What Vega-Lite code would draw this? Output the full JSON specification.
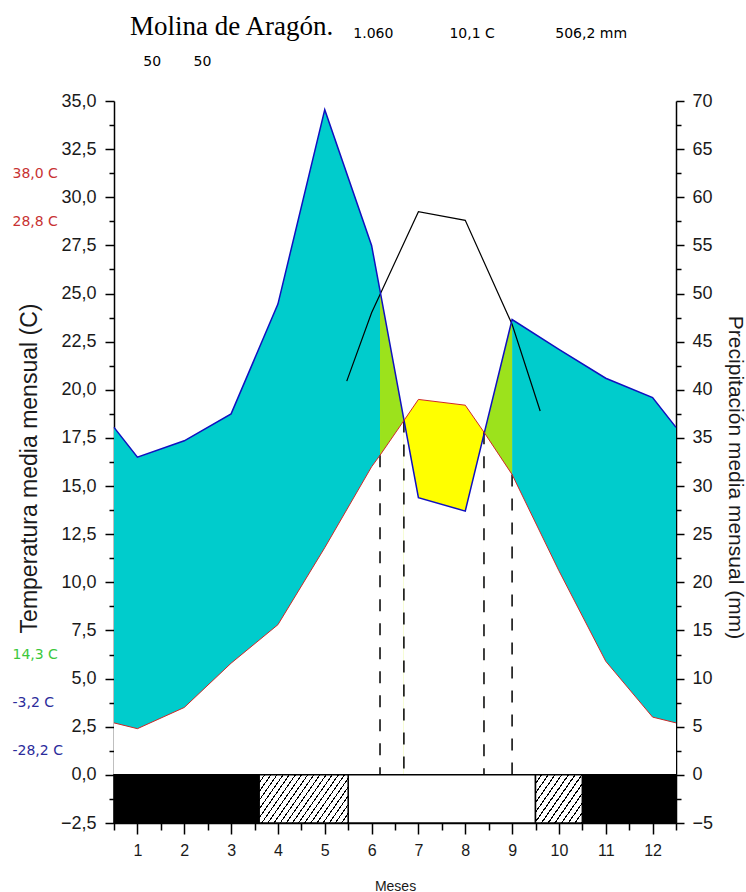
{
  "$schema": "https://vega.github.io/schema/vega-lite/v6.json",
  "width": 562,
  "height": 722,
  "autosize": "none",
  "padding": {"left": 114, "top": 101, "right": 70, "bottom": 69},
  "background": "white",
  "config": {
    "view": {"stroke": null},
    "axis": {
      "grid": false,
      "labelFont": "Liberation Sans",
      "titleFont": "Liberation Sans",
      "labelColor": "#1a1a1a",
      "titleColor": "#1a1a1a",
      "titleFontWeight": "normal",
      "domainColor": "black",
      "tickColor": "black",
      "domainWidth": 1.5,
      "tickWidth": 1.5,
      "labelOverlap": false,
      "labelFlush": false
    }
  },
  "title": {
    "text": "Molina de Aragón.",
    "subtitle": ["\u200b\u2003\u2003\u2003\u2003\u2003\u2003\u2003\u2003\u2003\u2003\u2003\u2003\u2003\u2003\u2003\u00a0\u00a0\u00a01.060\u2003\u2003\u2003\u200310,1 C\u2003\u2003\u2003\u2003\u00a0506,2 mm", "\u200b\u00a0\u00a0\u00a050\u2003\u2003\u00a050"],
    "anchor": "start",
    "frame": "group",
    "orient": "top",
    "dx": 16,
    "offset": 22,
    "font": "Liberation Serif",
    "fontSize": 27,
    "fontWeight": "normal",
    "color": "black",
    "subtitleFont": "DejaVu Sans",
    "subtitleFontSize": 14,
    "subtitleColor": "black",
    "subtitleLineHeight": 28,
    "subtitlePadding": -14
  },
  "datasets": {
    "clim": [
      {"m": 0.5, "temp": 2.7, "precip": 36.1, "limite": false},
      {"m": 1, "temp": 2.4, "precip": 33.0, "limite": false},
      {"m": 2, "temp": 3.5, "precip": 34.7, "limite": false},
      {"m": 3, "temp": 5.8, "precip": 37.5, "limite": false},
      {"m": 4, "temp": 7.8, "precip": 48.9, "limite": false},
      {"m": 5, "temp": 11.8, "precip": 69.1, "limite": false},
      {"m": 6, "temp": 16.0, "precip": 55.0, "limite": false},
      {"m": 6.18, "temp": 16.6, "precip": 50.3, "limite": true},
      {"m": 6.69, "temp": 18.4, "precip": 36.9, "limite": true},
      {"m": 7, "temp": 19.5, "precip": 28.8, "limite": false},
      {"m": 8, "temp": 19.2, "precip": 27.4, "limite": false},
      {"m": 8.4, "temp": 17.8, "precip": 35.4, "limite": true},
      {"m": 9, "temp": 15.6, "precip": 47.3, "limite": true},
      {"m": 10, "temp": 10.6, "precip": 44.2, "limite": false},
      {"m": 11, "temp": 5.9, "precip": 41.2, "limite": false},
      {"m": 12, "temp": 3.0, "precip": 39.2, "limite": false},
      {"m": 12.5, "temp": 2.7, "precip": 36.1, "limite": false}
    ],
    "gauss": [
      {"m": 5.47, "p3": 40.9},
      {"m": 6, "p3": 48.0},
      {"m": 7, "p3": 58.5},
      {"m": 8, "p3": 57.6},
      {"m": 9, "p3": 46.8},
      {"m": 9.6, "p3": 37.8}
    ],
    "heladas": [
      {"start": 0.5, "end": 3.6, "helada": "segura"},
      {"start": 3.6, "end": 5.5, "helada": "probable"},
      {"start": 5.5, "end": 9.5, "helada": "libre"},
      {"start": 9.5, "end": 10.5, "helada": "probable"},
      {"start": 10.5, "end": 12.5, "helada": "segura"}
    ]
  },
  "encoding": {
    "x": {"field": "m", "type": "quantitative", "scale": {"domain": [0.5, 12.5], "nice": false, "zero": false}, "axis": null}
  },
  "layer": [
    {
      "data": {"name": "clim"},
      "transform": [{"filter": "datum.m <= 6.18"}],
      "mark": {"type": "area", "color": "#00CCCC"},
      "encoding": {
        "y": {"field": "precip", "type": "quantitative", "scale": {"domain": [-5, 70], "nice": false, "zero": false},
          "axis": {"orient": "right", "values": [-2.5, 2.5, 7.5, 12.5, 17.5, 22.5, 27.5, 32.5, 37.5, 42.5, 47.5, 52.5, 57.5, 62.5, 67.5], "labels": false, "domain": false, "tickSize": 5, "title": null}},
        "y2": {"datum": 0}
      }
    },
    {
      "data": {"name": "clim"},
      "transform": [{"filter": "datum.m >= 9"}],
      "mark": {"type": "area", "color": "#00CCCC"},
      "encoding": {
        "y": {"field": "precip", "type": "quantitative", "scale": {"domain": [-5, 70], "nice": false, "zero": false}, "axis": null},
        "y2": {"datum": 0}
      }
    },
    {
      "data": {"name": "clim"},
      "transform": [{"filter": "datum.m >= 6.18 && datum.m <= 6.69"}],
      "mark": {"type": "area", "color": "#9CE21C"},
      "encoding": {
        "y": {"field": "precip", "type": "quantitative", "scale": {"domain": [-5, 70], "nice": false, "zero": false}, "axis": null},
        "y2": {"datum": 0}
      }
    },
    {
      "data": {"name": "clim"},
      "transform": [{"filter": "datum.m >= 8.4 && datum.m <= 9"}],
      "mark": {"type": "area", "color": "#9CE21C"},
      "encoding": {
        "y": {"field": "precip", "type": "quantitative", "scale": {"domain": [-5, 70], "nice": false, "zero": false}, "axis": null},
        "y2": {"datum": 0}
      }
    },
    {
      "data": {"name": "clim"},
      "transform": [{"filter": "datum.m <= 6.69"}],
      "mark": {"type": "area", "color": "white"},
      "encoding": {
        "y": {"field": "temp", "type": "quantitative", "scale": {"domain": [-2.5, 35], "nice": false, "zero": false},
          "axis": {"orient": "left", "values": [-1.25, 1.25, 3.75, 6.25, 8.75, 11.25, 13.75, 16.25, 18.75, 21.25, 23.75, 26.25, 28.75, 31.25, 33.75], "labels": false, "domain": false, "tickSize": 5, "title": null}},
        "y2": {"datum": 0}
      }
    },
    {
      "data": {"name": "clim"},
      "transform": [{"filter": "datum.m >= 8.4"}],
      "mark": {"type": "area", "color": "white"},
      "encoding": {
        "y": {"field": "temp", "type": "quantitative", "scale": {"domain": [-2.5, 35], "nice": false, "zero": false},
          "axis": {"orient": "left", "values": [1.25, 3.75, 6.25, 28.75, 31.25], "ticks": false, "tickSize": 0, "domain": false, "title": null,
            "labelAlign": "left", "labelPadding": 102, "labelFont": "DejaVu Sans", "labelFontSize": 14,
            "labelExpr": "datum.value > 30 ? '38,0 C' : datum.value > 20 ? '28,8 C' : datum.value > 5 ? '14,3 C' : datum.value > 2.5 ? '-3,2 C' : '-28,2 C'",
            "labelColor": {"condition": [{"test": "datum.value > 20", "value": "#C83232"}, {"test": "datum.value > 5", "value": "#3CC83C"}], "value": "#2B2B9B"}}},
        "y2": {"datum": 0}
      }
    },
    {
      "data": {"name": "clim"},
      "transform": [{"filter": "datum.m >= 6.69 && datum.m <= 8.4"}],
      "mark": {"type": "area", "color": "#FFFF00"},
      "encoding": {
        "y": {"field": "temp", "type": "quantitative", "scale": {"domain": [-2.5, 35], "nice": false, "zero": false}, "axis": null},
        "y2": {"datum": 0}
      }
    },
    {
      "data": {"name": "clim"},
      "transform": [{"filter": "datum.m >= 6.69 && datum.m <= 8.4"}],
      "mark": {"type": "area", "color": "white"},
      "encoding": {
        "y": {"field": "precip", "type": "quantitative", "scale": {"domain": [-5, 70], "nice": false, "zero": false}, "axis": null},
        "y2": {"datum": 0}
      }
    },
    {
      "data": {"name": "clim"},
      "transform": [{"filter": "datum.limite"}],
      "mark": {"type": "rule", "color": "black", "strokeWidth": 1.5, "strokeDash": [12, 12]},
      "encoding": {
        "y": {"field": "temp", "type": "quantitative", "scale": {"domain": [-2.5, 35], "nice": false, "zero": false}, "axis": null},
        "y2": {"datum": 0}
      }
    },
    {
      "data": {"name": "heladas"},
      "transform": [{"filter": "datum.helada == 'segura'"}],
      "mark": {"type": "rect", "fill": "black", "stroke": "black", "strokeWidth": 1.5},
      "encoding": {
        "x": {"field": "start", "type": "quantitative", "scale": {"domain": [0.5, 12.5], "nice": false, "zero": false},
          "axis": {"orient": "bottom", "values": [0.5, 1.5, 2.5, 3.5, 4.5, 5.5, 6.5, 7.5, 8.5, 9.5, 10.5, 11.5, 12.5], "labels": false, "domain": false, "tickSize": 7, "title": null}},
        "x2": {"field": "end"},
        "y": {"datum": 0, "type": "quantitative", "scale": {"domain": [-2.5, 35], "nice": false, "zero": false}, "axis": null},
        "y2": {"datum": -2.5}
      }
    },
    {
      "data": {"name": "heladas"},
      "transform": [{"filter": "datum.helada == 'libre'"}],
      "mark": {"type": "rect", "fill": "white", "stroke": "black", "strokeWidth": 1.5},
      "encoding": {
        "x": {"field": "start", "type": "quantitative", "scale": {"domain": [0.5, 12.5], "nice": false, "zero": false}, "axis": null},
        "x2": {"field": "end"},
        "y": {"datum": 0, "type": "quantitative", "scale": {"domain": [-2.5, 35], "nice": false, "zero": false}, "axis": null},
        "y2": {"datum": -2.5}
      }
    },
    {
      "data": {"name": "heladas"},
      "transform": [{"filter": "datum.helada == 'probable' && datum.start < 6"}],
      "mark": {"type": "rect", "stroke": "black", "strokeWidth": 1.5,
        "fill": {"gradient": "linear", "x1": 0, "y1": 0, "x2": 1.206, "y2": 0.457, "stops": [
          {"offset": 0, "color": "white"}, {"offset": 0.04, "color": "white"}, {"offset": 0.04, "color": "black"}, {"offset": 0.05, "color": "black"},
          {"offset": 0.05, "color": "white"}, {"offset": 0.09, "color": "white"}, {"offset": 0.09, "color": "black"}, {"offset": 0.10, "color": "black"},
          {"offset": 0.10, "color": "white"}, {"offset": 0.14, "color": "white"}, {"offset": 0.14, "color": "black"}, {"offset": 0.15, "color": "black"},
          {"offset": 0.15, "color": "white"}, {"offset": 0.19, "color": "white"}, {"offset": 0.19, "color": "black"}, {"offset": 0.20, "color": "black"},
          {"offset": 0.20, "color": "white"}, {"offset": 0.24, "color": "white"}, {"offset": 0.24, "color": "black"}, {"offset": 0.25, "color": "black"},
          {"offset": 0.25, "color": "white"}, {"offset": 0.29, "color": "white"}, {"offset": 0.29, "color": "black"}, {"offset": 0.30, "color": "black"},
          {"offset": 0.30, "color": "white"}, {"offset": 0.34, "color": "white"}, {"offset": 0.34, "color": "black"}, {"offset": 0.35, "color": "black"},
          {"offset": 0.35, "color": "white"}, {"offset": 0.39, "color": "white"}, {"offset": 0.39, "color": "black"}, {"offset": 0.40, "color": "black"},
          {"offset": 0.40, "color": "white"}, {"offset": 0.44, "color": "white"}, {"offset": 0.44, "color": "black"}, {"offset": 0.45, "color": "black"},
          {"offset": 0.45, "color": "white"}, {"offset": 0.49, "color": "white"}, {"offset": 0.49, "color": "black"}, {"offset": 0.50, "color": "black"},
          {"offset": 0.50, "color": "white"}, {"offset": 0.54, "color": "white"}, {"offset": 0.54, "color": "black"}, {"offset": 0.55, "color": "black"},
          {"offset": 0.55, "color": "white"}, {"offset": 0.59, "color": "white"}, {"offset": 0.59, "color": "black"}, {"offset": 0.60, "color": "black"},
          {"offset": 0.60, "color": "white"}, {"offset": 0.64, "color": "white"}, {"offset": 0.64, "color": "black"}, {"offset": 0.65, "color": "black"},
          {"offset": 0.65, "color": "white"}, {"offset": 0.69, "color": "white"}, {"offset": 0.69, "color": "black"}, {"offset": 0.70, "color": "black"},
          {"offset": 0.70, "color": "white"}, {"offset": 0.74, "color": "white"}, {"offset": 0.74, "color": "black"}, {"offset": 0.75, "color": "black"},
          {"offset": 0.75, "color": "white"}, {"offset": 0.79, "color": "white"}, {"offset": 0.79, "color": "black"}, {"offset": 0.80, "color": "black"},
          {"offset": 0.80, "color": "white"}, {"offset": 0.84, "color": "white"}, {"offset": 0.84, "color": "black"}, {"offset": 0.85, "color": "black"},
          {"offset": 0.85, "color": "white"}, {"offset": 0.89, "color": "white"}, {"offset": 0.89, "color": "black"}, {"offset": 0.90, "color": "black"},
          {"offset": 0.90, "color": "white"}, {"offset": 0.94, "color": "white"}, {"offset": 0.94, "color": "black"}, {"offset": 0.95, "color": "black"},
          {"offset": 0.95, "color": "white"}, {"offset": 0.99, "color": "white"}, {"offset": 0.99, "color": "black"}, {"offset": 1, "color": "black"}
        ]}},
      "encoding": {
        "x": {"field": "start", "type": "quantitative", "scale": {"domain": [0.5, 12.5], "nice": false, "zero": false}, "axis": null},
        "x2": {"field": "end"},
        "y": {"datum": 0, "type": "quantitative", "scale": {"domain": [-2.5, 35], "nice": false, "zero": false}, "axis": null},
        "y2": {"datum": -2.5}
      }
    },
    {
      "data": {"name": "heladas"},
      "transform": [{"filter": "datum.helada == 'probable' && datum.start > 6"}],
      "mark": {"type": "rect", "stroke": "black", "strokeWidth": 1.5,
        "fill": {"gradient": "linear", "x1": 0, "y1": 0, "x2": 1.133, "y2": 0.815, "stops": [
          {"offset": 0, "color": "white"}, {"offset": 0.0667, "color": "white"}, {"offset": 0.0667, "color": "black"}, {"offset": 0.0833, "color": "black"},
          {"offset": 0.0833, "color": "white"}, {"offset": 0.15, "color": "white"}, {"offset": 0.15, "color": "black"}, {"offset": 0.1667, "color": "black"},
          {"offset": 0.1667, "color": "white"}, {"offset": 0.2333, "color": "white"}, {"offset": 0.2333, "color": "black"}, {"offset": 0.25, "color": "black"},
          {"offset": 0.25, "color": "white"}, {"offset": 0.3167, "color": "white"}, {"offset": 0.3167, "color": "black"}, {"offset": 0.3333, "color": "black"},
          {"offset": 0.3333, "color": "white"}, {"offset": 0.4, "color": "white"}, {"offset": 0.4, "color": "black"}, {"offset": 0.4167, "color": "black"},
          {"offset": 0.4167, "color": "white"}, {"offset": 0.4833, "color": "white"}, {"offset": 0.4833, "color": "black"}, {"offset": 0.5, "color": "black"},
          {"offset": 0.5, "color": "white"}, {"offset": 0.5667, "color": "white"}, {"offset": 0.5667, "color": "black"}, {"offset": 0.5833, "color": "black"},
          {"offset": 0.5833, "color": "white"}, {"offset": 0.65, "color": "white"}, {"offset": 0.65, "color": "black"}, {"offset": 0.6667, "color": "black"},
          {"offset": 0.6667, "color": "white"}, {"offset": 0.7333, "color": "white"}, {"offset": 0.7333, "color": "black"}, {"offset": 0.75, "color": "black"},
          {"offset": 0.75, "color": "white"}, {"offset": 0.8167, "color": "white"}, {"offset": 0.8167, "color": "black"}, {"offset": 0.8333, "color": "black"},
          {"offset": 0.8333, "color": "white"}, {"offset": 0.9, "color": "white"}, {"offset": 0.9, "color": "black"}, {"offset": 0.9167, "color": "black"},
          {"offset": 0.9167, "color": "white"}, {"offset": 0.9833, "color": "white"}, {"offset": 0.9833, "color": "black"}, {"offset": 1, "color": "black"}
        ]}},
      "encoding": {
        "x": {"field": "start", "type": "quantitative", "scale": {"domain": [0.5, 12.5], "nice": false, "zero": false}, "axis": null},
        "x2": {"field": "end"},
        "y": {"datum": 0, "type": "quantitative", "scale": {"domain": [-2.5, 35], "nice": false, "zero": false}, "axis": null},
        "y2": {"datum": -2.5}
      }
    },
    {
      "data": {"name": "gauss"},
      "mark": {"type": "line", "color": "black", "strokeWidth": 1.2},
      "encoding": {
        "y": {"field": "p3", "type": "quantitative", "scale": {"domain": [-5, 70], "nice": false, "zero": false}, "axis": null}
      }
    },
    {
      "data": {"name": "clim"},
      "mark": {"type": "line", "color": "#1010C0", "strokeWidth": 1.5},
      "encoding": {
        "y": {"field": "precip", "type": "quantitative", "scale": {"domain": [-5, 70], "nice": false, "zero": false},
          "axis": {"orient": "right", "values": [-5, 0, 5, 10, 15, 20, 25, 30, 35, 40, 45, 50, 55, 60, 65, 70], "format": "d", "tickSize": 8, "labelPadding": 8, "labelFontSize": 18,
            "title": "Precipitación media mensual (mm)", "titleFontSize": 21, "titleAngle": 90, "titleBaseline": "alphabetic", "titleAlign": "center", "titleX": 52, "titleY": 376}}
      }
    },
    {
      "data": {"name": "clim"},
      "mark": {"type": "line", "color": "#D02828", "strokeWidth": 1},
      "encoding": {
        "x": {"field": "m", "type": "quantitative", "scale": {"domain": [0.5, 12.5], "nice": false, "zero": false},
          "axis": {"orient": "bottom", "values": [1, 2, 3, 4, 5, 6, 7, 8, 9, 10, 11, 12], "format": "d", "tickSize": 11, "labelPadding": 8, "labelFontSize": 16,
            "title": "Meses", "titleFontSize": 14, "titleBaseline": "alphabetic", "titleY": 67}},
        "y": {"field": "temp", "type": "quantitative", "scale": {"domain": [-2.5, 35], "nice": false, "zero": false},
          "axis": {"orient": "left", "values": [-2.5, 0, 2.5, 5, 7.5, 10, 12.5, 15, 17.5, 20, 22.5, 25, 27.5, 30, 32.5, 35],
            "labelExpr": "replace(format(datum.value, '.1f'), '.', ',')", "tickSize": 9, "labelPadding": 9, "labelFontSize": 18,
            "title": "Temperatura media mensual (C)", "titleFontSize": 23, "titleAngle": -90, "titleBaseline": "alphabetic", "titleAlign": "center", "titleX": -78, "titleY": 367}}
      }
    }
  ],
  "resolve": {"scale": {"x": "independent", "y": "independent"}}
}
